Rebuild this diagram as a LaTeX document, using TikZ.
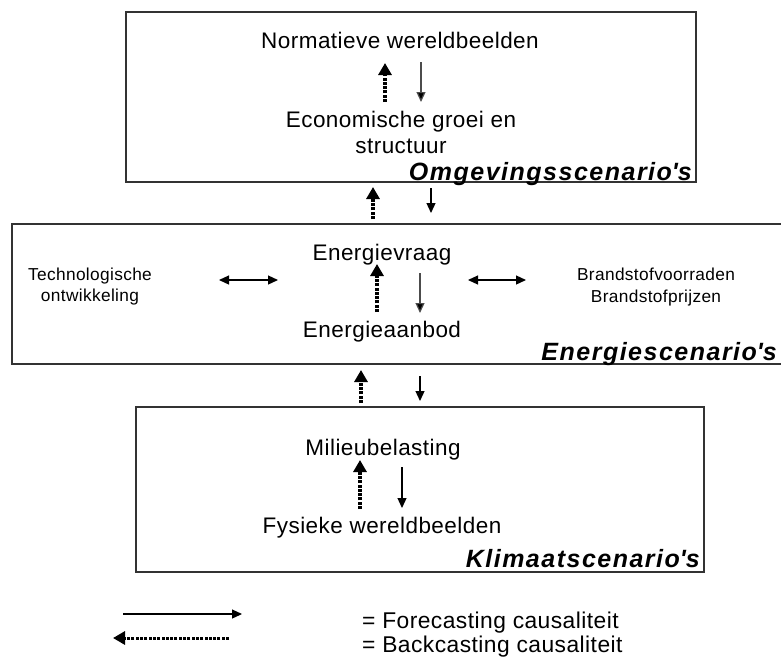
\documentclass[tikz,border=0pt]{standalone}
\usepackage{fontspec}
\setmainfont{Liberation Sans}
\newfontfamily\txtfont[LetterSpace=2]{Liberation Sans}
\newfontfamily\lblfont[LetterSpace=6]{Liberation Sans}
\usetikzlibrary{arrows.meta}
\begin{document}
\begin{tikzpicture}[x=1pt,y=-1pt,
  box/.style={draw=black!80, line width=1.2pt},
  txt/.style={anchor=base, inner sep=0pt, font=\txtfont\fontsize{22.5}{26}\selectfont},
  small/.style={anchor=base, inner sep=0pt, font=\txtfont\fontsize{17.3}{20}\selectfont},
  lbl/.style={anchor=base east, inner sep=0pt, font=\lblfont\bfseries\itshape\fontsize{25}{29}\selectfont},
  lgd/.style={anchor=base west, inner sep=0pt, font=\txtfont\fontsize{22.8}{27}\selectfont},
  fwd/.style={line width=1.2pt, -{Triangle[length=10pt,width=9pt]}},
  fwdg/.style={fwd, draw=black!70, -{Triangle[length=10pt,width=9pt,fill=black]}},
  bwd/.style={line width=3.2pt, dash pattern=on 3pt off 1.3pt, -{Triangle[length=12pt,width=13pt]}},
  dbl/.style={line width=1.2pt, {Triangle[length=10pt,width=9pt]}-{Triangle[length=10pt,width=9pt]}}
]
\useasboundingbox (0,0) rectangle (781,657);
\clip (0,0) rectangle (781,657);

% ---------- top box ----------
\draw[box] (126,12) rectangle (696,182);
\node[txt] (nw) at (400,48) {Normatieve wereldbeelden};
\node[txt] (eg1) at (401,127) {Economische groei en};
\node[txt] (eg2) at (401,153) {structuur};
\node[lbl] (omg) at (692,180) {Omgevingsscenario\textquotesingle s};
\coordinate (t1s) at (385,102); \coordinate (t1e) at (385,63);
\coordinate (t2s) at (421,62);  \coordinate (t2e) at (421,102);
\draw[bwd] (t1s) -- (t1e);
\draw[fwdg] (t2s) -- (t2e);

% ---------- arrows top <-> middle ----------
\coordinate (u1s) at (373,219); \coordinate (u1e) at (373,187);
\coordinate (u2s) at (431,188); \coordinate (u2e) at (431,213);
\draw[bwd] (u1s) -- (u1e);
\draw[fwd] (u2s) -- (u2e);

% ---------- middle box ----------
\draw[box] (12,224) rectangle (790,364);
\node[txt] (ev) at (382,260) {Energievraag};
\node[txt] (ea) at (382,337) {Energieaanbod};
\coordinate (m1s) at (377,312); \coordinate (m1e) at (377,264);
\coordinate (m2s) at (420,273); \coordinate (m2e) at (420,313);
\draw[bwd] (m1s) -- (m1e);
\draw[fwdg] (m2s) -- (m2e);
\node[small] (tech1) at (90,280) {Technologische};
\node[small] (tech2) at (90,301) {ontwikkeling};
\node[small] (br1) at (656,280) {Brandstofvoorraden};
\node[small] (br2) at (656,302) {Brandstofprijzen};
\coordinate (l1) at (219,280); \coordinate (l2) at (278,280);
\coordinate (r1) at (468,280); \coordinate (r2) at (526,280);
\draw[dbl] (l1) -- (l2);
\draw[dbl] (r1) -- (r2);
\node[lbl] (ens) at (777,360) {Energiescenario\textquotesingle s};

% ---------- arrows middle <-> bottom ----------
\coordinate (v1s) at (361,403); \coordinate (v1e) at (361,370);
\coordinate (v2s) at (420,376); \coordinate (v2e) at (420,401);
\draw[bwd] (v1s) -- (v1e);
\draw[fwd] (v2s) -- (v2e);

% ---------- bottom box ----------
\draw[box] (136,407) rectangle (704,572);
\node[txt] (mb) at (383,455) {Milieubelasting};
\node[txt] (fw) at (382,533) {Fysieke wereldbeelden};
\coordinate (b1s) at (360,509); \coordinate (b1e) at (360,460);
\coordinate (b2s) at (402,467); \coordinate (b2e) at (402,508);
\draw[bwd] (b1s) -- (b1e);
\draw[fwd] (b2s) -- (b2e);
\node[lbl] (kl) at (700,567) {Klimaatscenario\textquotesingle s};

% ---------- legend ----------
\coordinate (f1) at (123,614); \coordinate (f2) at (242,614);
\coordinate (k1) at (229,638); \coordinate (k2) at (113,638);
\draw[fwd] (f1) -- (f2);
\draw[bwd, line width=3pt] (k1) -- (k2);
\node[lgd] (lf) at (362,628) {= Forecasting causaliteit};
\node[lgd] (lb) at (362,652) {= Backcasting causaliteit};
\end{tikzpicture}
\end{document}
